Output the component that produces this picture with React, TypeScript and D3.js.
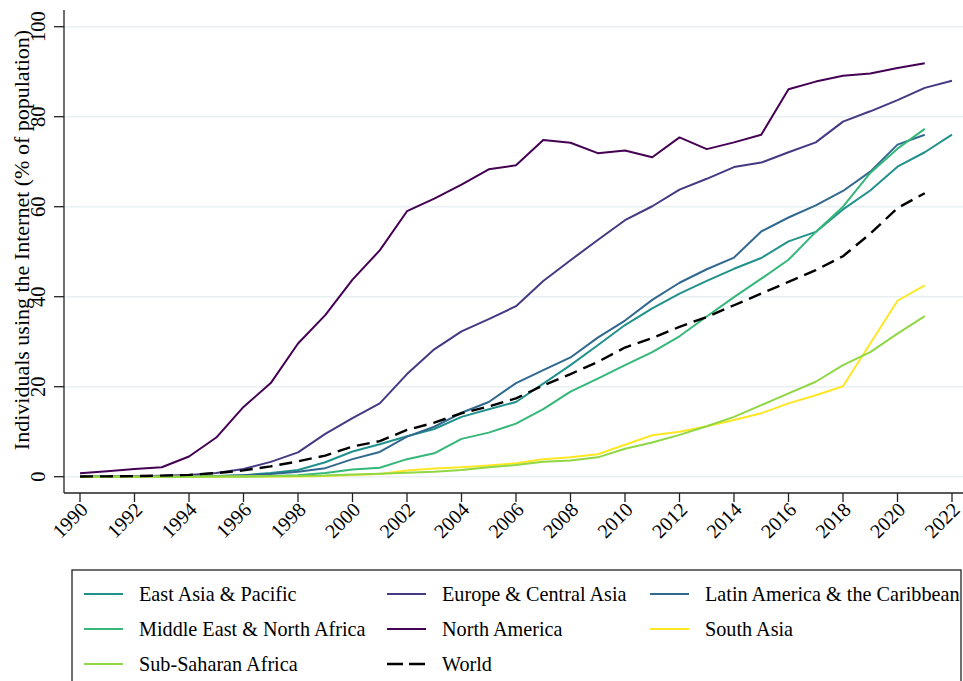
import React from "react";
import * as d3 from "d3";

const years = [1990,1991,1992,1993,1994,1995,1996,1997,1998,1999,2000,2001,2002,2003,2004,2005,2006,2007,2008,2009,2010,2011,2012,2013,2014,2015,2016,2017,2018,2019,2020,2021,2022];

const eastAsiaPacific = [0,0,0,0.01,0.05,0.15,0.35,0.8,1.5,3.2,5.6,7.2,9.0,10.6,13.3,15.0,16.6,20.7,24.8,29.2,33.7,37.4,40.7,43.5,46.2,48.6,52.3,54.4,59.4,63.6,68.9,72.1,76.0];
const europeCentralAsia = [0.02,0.05,0.1,0.2,0.4,0.8,1.7,3.3,5.4,9.5,13.0,16.3,22.8,28.3,32.3,35.0,37.9,43.5,48.1,52.6,57.0,60.1,63.8,66.2,68.8,69.8,72.1,74.3,78.9,81.2,83.7,86.4,88.0];
const latinAmerica = [0,0,0,0.01,0.04,0.1,0.3,0.6,1.1,1.9,3.9,5.5,8.9,11.1,14.2,16.6,20.8,23.7,26.5,30.9,34.7,39.3,43.1,46.1,48.7,54.5,57.6,60.3,63.5,67.8,73.8,76.0,null];
const middleEast = [0,0,0,0,0.01,0.03,0.07,0.15,0.3,0.8,1.6,2.0,3.9,5.2,8.4,9.8,11.8,15.0,18.9,21.8,24.8,27.7,31.2,35.6,39.9,44.0,48.2,54.4,60.0,67.5,72.9,77.3,null];
const northAmerica = [0.75,1.2,1.7,2.1,4.5,8.7,15.5,20.8,29.6,35.9,43.8,50.3,59.0,61.8,64.9,68.3,69.2,74.8,74.2,71.9,72.5,71.0,75.4,72.8,74.3,76.0,86.1,87.8,89.1,89.6,90.8,91.9,null];
const southAsia = [0,0,0,0,0,0.01,0.02,0.04,0.07,0.15,0.4,0.6,1.4,1.8,2.1,2.5,3.0,3.9,4.3,5.0,7.1,9.2,10.0,11.2,12.6,14.1,16.3,18.1,20.1,29.6,39.1,42.5,null];
const subSaharan = [0,0,0,0,0,0.02,0.04,0.08,0.15,0.25,0.5,0.65,0.9,1.1,1.5,2.1,2.6,3.3,3.6,4.3,6.2,7.6,9.3,11.2,13.3,15.9,18.5,21.1,24.8,27.7,31.8,35.7,null];
const world = [0.05,0.08,0.14,0.25,0.4,0.8,1.4,2.3,3.4,4.7,6.7,7.9,10.4,12.0,14.1,15.6,17.4,20.3,22.8,25.5,28.7,30.8,33.3,35.5,38.1,40.7,43.3,45.9,49.0,54.0,59.7,63.0,null];

const seriesNames = ["East Asia & Pacific","Europe & Central Asia","Latin America & the Caribbean","Middle East & North Africa","North America","South Asia","Sub-Saharan Africa","World"];
const seriesValues = [eastAsiaPacific, europeCentralAsia, latinAmerica, middleEast, northAmerica, southAsia, subSaharan, world];
const seriesColors = ["#21918c","#443983","#31688e","#35b779","#440154","#fde725","#8fd744","#000000"];

const yTicks = [0,20,40,60,80,100];
const xTicks = [1990,1992,1994,1996,1998,2000,2002,2004,2006,2008,2010,2012,2014,2016,2018,2020,2022];
const yTitle = "Individuals using the Internet (% of population)";

const FONT = "'Liberation Serif', 'Times New Roman', Times, serif";

export default function App() {
  const W = 963, H = 681;
  const x = d3.scaleLinear().domain([1990, 2022]).range([80, 952]);
  const y = d3.scaleLinear().domain([0, 100]).range([476.7, 26.7]);
  const axisY = 493;
  const axisX = 64;

  const line = d3.line<[number, number | null]>()
    .defined(d => d[1] !== null)
    .x(d => x(d[0]))
    .y(d => y(d[1] as number));

  const legendCols = [84, 387, 650];
  const legendRows = [594, 629, 664];

  return (
    <svg width={W} height={H} style={{ position: "absolute", left: 0, top: 0, background: "#fff" }} fontFamily={FONT}>
      <rect x={0} y={0} width={W} height={H} fill="#fff" />
      {yTicks.map(t => (
        <line key={"g" + t} x1={axisX} x2={W} y1={y(t)} y2={y(t)} stroke="#e9f0f2" strokeWidth={1.5} />
      ))}
      <line x1={axisX} x2={axisX} y1={10} y2={axisY} stroke="#222" strokeWidth={1.3} />
      <line x1={axisX} x2={W} y1={axisY} y2={axisY} stroke="#222" strokeWidth={1.3} />
      {yTicks.map(t => (
        <g key={"yt" + t}>
          <line x1={axisX - 10} x2={axisX} y1={y(t)} y2={y(t)} stroke="#222" strokeWidth={1.3} />
          <text transform={`translate(45,${y(t)}) rotate(-90)`} textAnchor="middle" fontSize={20.5} fill="#000">{t}</text>
        </g>
      ))}
      {xTicks.map(t => (
        <g key={"xt" + t}>
          <line x1={x(t)} x2={x(t)} y1={axisY} y2={axisY + 9} stroke="#222" strokeWidth={1.3} />
          <text transform={`translate(${x(t) + 4},${axisY + 13}) rotate(-45)`} textAnchor="end" dy="0.35em" fontSize={20} fill="#000">{t}</text>
        </g>
      ))}
      <text transform={`translate(29,240) rotate(-90)`} textAnchor="middle" fontSize={22} fill="#000">{yTitle}</text>
      {seriesValues.map((vals, i) => {
        const pts = years.map((yr, j) => [yr, vals[j]] as [number, number | null]);
        const isWorld = seriesNames[i] === "World";
        return (
          <path key={seriesNames[i]} d={line(pts) || ""} fill="none" stroke={seriesColors[i]}
            strokeWidth={isWorld ? 2.4 : 2} strokeDasharray={isWorld ? "13,7" : undefined} strokeLinejoin="round" />
        );
      })}
      <rect x={72} y={570} width={889} height={130} fill="#fff" stroke="#222" strokeWidth={1.3} />
      {seriesNames.map((name, i) => {
        const col = i % 3, row = Math.floor(i / 3);
        const lx = legendCols[col], ly = legendRows[row];
        const isWorld = name === "World";
        return (
          <g key={"lg" + name}>
            <line x1={lx} x2={lx + 39} y1={ly} y2={ly} stroke={seriesColors[i]} strokeWidth={isWorld ? 2.4 : 2.2}
              strokeDasharray={isWorld ? "16,6" : undefined} />
            <text x={lx + 55} y={ly} dy="0.35em" fontSize={20.2} fill="#000">{name}</text>
          </g>
        );
      })}
    </svg>
  );
}
